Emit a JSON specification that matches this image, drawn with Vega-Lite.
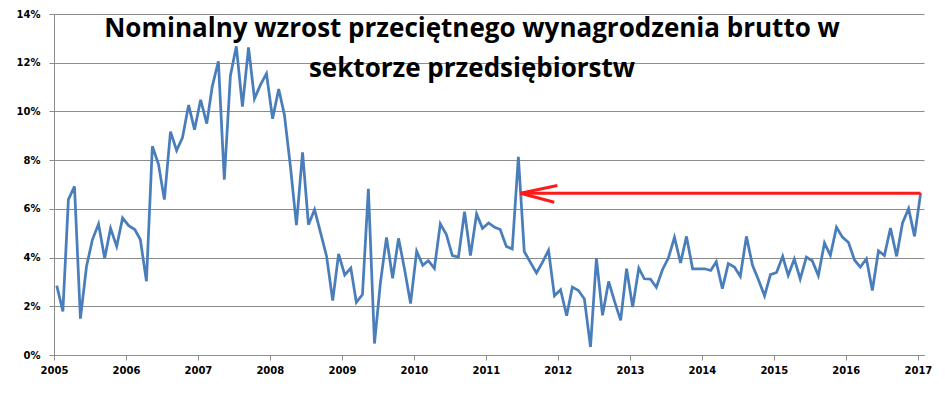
{
  "$schema": "https://vega.github.io/schema/vega-lite/v6.json",
  "width": 870,
  "height": 341,
  "autosize": {"type": "none"},
  "padding": {"left": 54, "top": 14, "right": 21, "bottom": 44},
  "background": "white",
  "config": {"view": {"stroke": null}},
  "title": {
    "text": ["Nominalny wzrost przeciętnego wynagrodzenia brutto w", "sektorze przedsiębiorstw"],
    "font": "Open Sans",
    "fontSize": 26,
    "fontWeight": "bold",
    "color": "#000000",
    "lineHeight": 40,
    "anchor": "middle",
    "frame": "group",
    "offset": -94,
    "baseline": "alphabetic",
    "dx": -17
  },
  "datasets": {
    "wages": [
      {"date": "2005-01-15", "value": 2.85}, {"date": "2005-02-15", "value": 1.79}, {"date": "2005-03-15", "value": 6.38}, {"date": "2005-04-15", "value": 6.92},
      {"date": "2005-05-15", "value": 1.49}, {"date": "2005-06-15", "value": 3.64}, {"date": "2005-07-15", "value": 4.74}, {"date": "2005-08-15", "value": 5.38},
      {"date": "2005-09-15", "value": 3.97}, {"date": "2005-10-15", "value": 5.2}, {"date": "2005-11-15", "value": 4.46}, {"date": "2005-12-15", "value": 5.63},
      {"date": "2006-01-15", "value": 5.31}, {"date": "2006-02-15", "value": 5.15}, {"date": "2006-03-15", "value": 4.74}, {"date": "2006-04-15", "value": 3.03},
      {"date": "2006-05-15", "value": 8.57}, {"date": "2006-06-15", "value": 7.84}, {"date": "2006-07-15", "value": 6.38}, {"date": "2006-08-15", "value": 9.17},
      {"date": "2006-09-15", "value": 8.4}, {"date": "2006-10-15", "value": 8.93}, {"date": "2006-11-15", "value": 10.26}, {"date": "2006-12-15", "value": 9.25},
      {"date": "2007-01-15", "value": 10.48}, {"date": "2007-02-15", "value": 9.5}, {"date": "2007-03-15", "value": 11.03}, {"date": "2007-04-15", "value": 12.06},
      {"date": "2007-05-15", "value": 7.2}, {"date": "2007-06-15", "value": 11.47}, {"date": "2007-07-15", "value": 12.67}, {"date": "2007-08-15", "value": 10.2},
      {"date": "2007-09-15", "value": 12.63}, {"date": "2007-10-15", "value": 10.52}, {"date": "2007-11-15", "value": 11.1}, {"date": "2007-12-15", "value": 11.55},
      {"date": "2008-01-15", "value": 9.7}, {"date": "2008-02-15", "value": 10.92}, {"date": "2008-03-15", "value": 9.86}, {"date": "2008-04-15", "value": 7.7},
      {"date": "2008-05-15", "value": 5.33}, {"date": "2008-06-15", "value": 8.32}, {"date": "2008-07-15", "value": 5.35}, {"date": "2008-08-15", "value": 5.97},
      {"date": "2008-09-15", "value": 5.0}, {"date": "2008-10-15", "value": 4.05}, {"date": "2008-11-15", "value": 2.23}, {"date": "2008-12-15", "value": 4.15},
      {"date": "2009-01-15", "value": 3.29}, {"date": "2009-02-15", "value": 3.57}, {"date": "2009-03-15", "value": 2.16}, {"date": "2009-04-15", "value": 2.48},
      {"date": "2009-05-15", "value": 6.82}, {"date": "2009-06-15", "value": 0.47}, {"date": "2009-07-15", "value": 2.96}, {"date": "2009-08-15", "value": 4.83},
      {"date": "2009-09-15", "value": 3.15}, {"date": "2009-10-15", "value": 4.79}, {"date": "2009-11-15", "value": 3.5}, {"date": "2009-12-15", "value": 2.11},
      {"date": "2010-01-15", "value": 4.26}, {"date": "2010-02-15", "value": 3.68}, {"date": "2010-03-15", "value": 3.87}, {"date": "2010-04-15", "value": 3.56},
      {"date": "2010-05-15", "value": 5.39}, {"date": "2010-06-15", "value": 4.94}, {"date": "2010-07-15", "value": 4.08}, {"date": "2010-08-15", "value": 4.02},
      {"date": "2010-09-15", "value": 5.88}, {"date": "2010-10-15", "value": 4.08}, {"date": "2010-11-15", "value": 5.79}, {"date": "2010-12-15", "value": 5.2},
      {"date": "2011-01-15", "value": 5.42}, {"date": "2011-02-15", "value": 5.24}, {"date": "2011-03-15", "value": 5.15}, {"date": "2011-04-15", "value": 4.46},
      {"date": "2011-05-15", "value": 4.35}, {"date": "2011-06-15", "value": 8.14}, {"date": "2011-07-15", "value": 4.25}, {"date": "2011-08-15", "value": 3.8},
      {"date": "2011-09-15", "value": 3.37}, {"date": "2011-10-15", "value": 3.8}, {"date": "2011-11-15", "value": 4.3}, {"date": "2011-12-15", "value": 2.43},
      {"date": "2012-01-15", "value": 2.68}, {"date": "2012-02-15", "value": 1.61}, {"date": "2012-03-15", "value": 2.79}, {"date": "2012-04-15", "value": 2.65},
      {"date": "2012-05-15", "value": 2.3}, {"date": "2012-06-15", "value": 0.33}, {"date": "2012-07-15", "value": 3.98}, {"date": "2012-08-15", "value": 1.63},
      {"date": "2012-09-15", "value": 3.02}, {"date": "2012-10-15", "value": 2.2}, {"date": "2012-11-15", "value": 1.42}, {"date": "2012-12-15", "value": 3.54},
      {"date": "2013-01-15", "value": 1.97}, {"date": "2013-02-15", "value": 3.57}, {"date": "2013-03-15", "value": 3.13}, {"date": "2013-04-15", "value": 3.12},
      {"date": "2013-05-15", "value": 2.78}, {"date": "2013-06-15", "value": 3.5}, {"date": "2013-07-15", "value": 3.98}, {"date": "2013-08-15", "value": 4.83},
      {"date": "2013-09-15", "value": 3.78}, {"date": "2013-10-15", "value": 4.87}, {"date": "2013-11-15", "value": 3.54}, {"date": "2013-12-15", "value": 3.54},
      {"date": "2014-01-15", "value": 3.54}, {"date": "2014-02-15", "value": 3.47}, {"date": "2014-03-15", "value": 3.83}, {"date": "2014-04-15", "value": 2.72},
      {"date": "2014-05-15", "value": 3.75}, {"date": "2014-06-15", "value": 3.61}, {"date": "2014-07-15", "value": 3.23}, {"date": "2014-08-15", "value": 4.87},
      {"date": "2014-09-15", "value": 3.68}, {"date": "2014-10-15", "value": 3.09}, {"date": "2014-11-15", "value": 2.43}, {"date": "2014-12-15", "value": 3.3},
      {"date": "2015-01-15", "value": 3.39}, {"date": "2015-02-15", "value": 4.05}, {"date": "2015-03-15", "value": 3.27}, {"date": "2015-04-15", "value": 3.94},
      {"date": "2015-05-15", "value": 3.12}, {"date": "2015-06-15", "value": 4.02}, {"date": "2015-07-15", "value": 3.87}, {"date": "2015-08-15", "value": 3.26},
      {"date": "2015-09-15", "value": 4.6}, {"date": "2015-10-15", "value": 4.09}, {"date": "2015-11-15", "value": 5.25}, {"date": "2015-12-15", "value": 4.84},
      {"date": "2016-01-15", "value": 4.62}, {"date": "2016-02-15", "value": 3.89}, {"date": "2016-03-15", "value": 3.61}, {"date": "2016-04-15", "value": 3.95},
      {"date": "2016-05-15", "value": 2.65}, {"date": "2016-06-15", "value": 4.28}, {"date": "2016-07-15", "value": 4.08}, {"date": "2016-08-15", "value": 5.21},
      {"date": "2016-09-15", "value": 4.05}, {"date": "2016-10-15", "value": 5.42}, {"date": "2016-11-15", "value": 6.01}, {"date": "2016-12-15", "value": 4.87},
      {"date": "2017-01-15", "value": 6.65}
    ],
    "arrow": [
      {"x": "2011-06-26", "y": 6.64, "x2": "2017-01-15", "y2": 6.64},
      {"x": "2011-06-26", "y": 6.64, "x2": "2011-12-30", "y2": 6.96},
      {"x": "2011-06-26", "y": 6.64, "x2": "2011-12-14", "y2": 6.27}
    ]
  },
  "layer": [
    {
      "data": {"name": "wages"},
      "mark": {"type": "line", "color": "#4a7ebb", "strokeWidth": 2.75},
      "encoding": {
        "x": {
          "field": "date",
          "type": "temporal",
          "scale": {
            "type": "utc",
            "domain": [
              {"year": 2005, "month": 1, "date": 1, "utc": true},
              {"year": 2017, "month": 2, "date": 1, "utc": true}
            ]
          },
          "axis": {
            "title": null,
            "grid": false,
            "tickCount": {"interval": "year", "step": 1},
            "format": "%Y",
            "labelAlign": "center",
            "labelFlush": false,
            "labelOverlap": false,
            "labelDx": 2,
            "labelFont": "DejaVu Sans",
            "labelFontWeight": "bold",
            "labelFontSize": 10,
            "labelColor": "#000000",
            "labelPadding": 5,
            "tickSize": 5,
            "tickColor": "#8c8c8c",
            "domainColor": "#8c8c8c"
          }
        },
        "y": {
          "field": "value",
          "type": "quantitative",
          "scale": {"domain": [0, 14], "nice": false},
          "axis": {
            "title": null,
            "values": [0, 2, 4, 6, 8, 10, 12, 14],
            "labelExpr": "datum.value + '%'",
            "grid": true,
            "gridColor": "#8c8c8c",
            "domainColor": "#8c8c8c",
            "tickColor": "#8c8c8c",
            "tickSize": 5,
            "labelFont": "DejaVu Sans",
            "labelFontWeight": "bold",
            "labelFontSize": 10,
            "labelColor": "#000000",
            "labelPadding": 9
          }
        }
      }
    },
    {
      "data": {"name": "arrow"},
      "mark": {"type": "rule", "color": "#ff1a1a", "strokeWidth": 3},
      "encoding": {
        "x": {"field": "x", "type": "temporal"},
        "x2": {"field": "x2"},
        "y": {"field": "y", "type": "quantitative"},
        "y2": {"field": "y2"}
      }
    }
  ]
}
